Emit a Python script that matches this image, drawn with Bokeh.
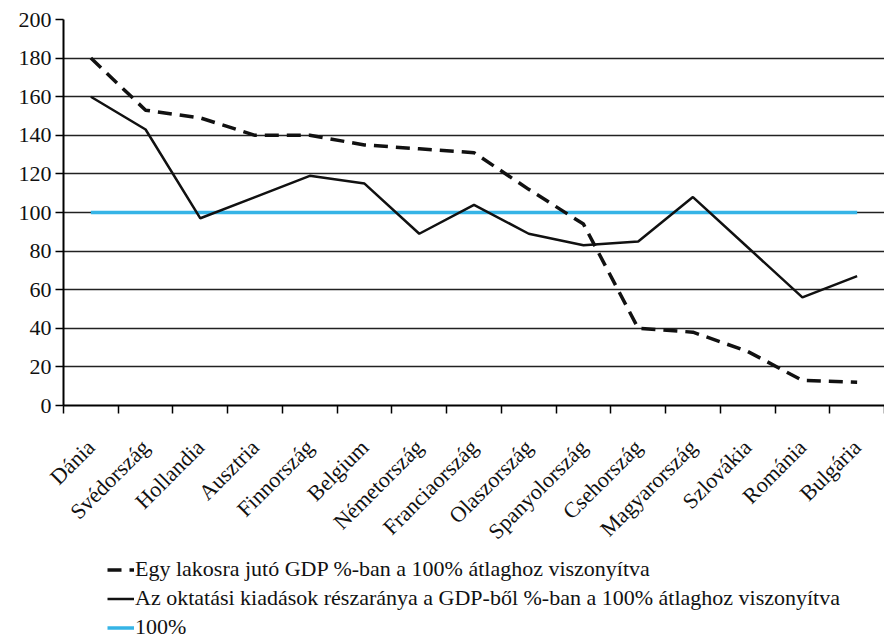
import math
from bokeh.plotting import figure
from bokeh.layouts import column
from bokeh.models import Range1d, FixedTicker, Legend, LegendItem
from bokeh.embed import file_html
from bokeh.resources import INLINE

countries = ["Dánia", "Svédország", "Hollandia", "Ausztria", "Finnország", "Belgium",
             "Németország", "Franciaország", "Olaszország", "Spanyolország", "Csehország",
             "Magyarország", "Szlovákia", "Románia", "Bulgária"]
gdp = [180, 153, 149, 140, 140, 135, 133, 131, 112, 94, 40, 38, 28, 13, 12]
edu = [160, 143, 97, 108, 119, 115, 89, 104, 89, 83, 85, 108, 82, 56, 67]
avg = [100] * len(countries)
y_ticks = [0, 20, 40, 60, 80, 100, 120, 140, 160, 180, 200]

label_gdp = "Egy lakosra jutó GDP %-ban a 100% átlaghoz viszonyítva"
label_edu = "Az oktatási kiadások részaránya a GDP-ből %-ban a 100% átlaghoz viszonyítva"
label_avg = "100%"

n = len(countries)
x = [i + 0.5 for i in range(n)]

FONT = "Liberation Serif"
GDP_STYLE = dict(line_width=3.5, line_color="#111", line_dash="14 8")
EDU_STYLE = dict(line_width=2.5, line_color="#111")
AVG_STYLE = dict(line_width=3.5, line_color="#36b4e6")

W = 884
p = figure(width=W, height=555, x_range=Range1d(0, n), y_range=Range1d(0, 200),
           output_backend="svg", toolbar_location=None,
           min_border_left=63, min_border_right=0, min_border_top=19, min_border_bottom=149)
p.outline_line_color = None
p.background_fill_color = "white"

# x axis
p.xaxis.ticker = FixedTicker(ticks=x, minor_ticks=list(range(n + 1)))
p.xaxis.major_label_overrides = {xi: c for xi, c in zip(x, countries)}
p.xaxis.major_label_orientation = math.pi / 4
p.xaxis.major_tick_line_color = None
p.xaxis.minor_tick_line_color = "black"
p.xaxis.minor_tick_line_width = 1.5
p.xaxis.minor_tick_in = 0
p.xaxis.minor_tick_out = 8
p.xaxis.axis_line_color = "black"
p.xaxis.axis_line_width = 2
p.xaxis.major_label_text_font = FONT
p.xaxis.major_label_text_font_size = "22px"
p.xaxis.major_label_text_color = "#111"
p.xaxis.major_label_standoff = 30

# y axis
p.yaxis.ticker = FixedTicker(ticks=y_ticks, minor_ticks=[])
p.yaxis.major_tick_line_color = "black"
p.yaxis.major_tick_line_width = 1.5
p.yaxis.major_tick_in = 0
p.yaxis.major_tick_out = 8
p.yaxis.axis_line_color = "black"
p.yaxis.axis_line_width = 2
p.yaxis.major_label_text_font = FONT
p.yaxis.major_label_text_font_size = "22px"
p.yaxis.major_label_text_color = "#111"
p.yaxis.major_label_standoff = 4

p.xgrid.grid_line_color = None
p.ygrid.ticker = FixedTicker(ticks=y_ticks)
p.ygrid.grid_line_color = "#222"
p.ygrid.grid_line_width = 1.5

p.line(x, avg, **AVG_STYLE)
p.line(x, gdp, **GDP_STYLE)
p.line(x, edu, **EDU_STYLE)

# legend panel below the chart
lg = figure(width=W, height=87, x_range=Range1d(0, n), y_range=Range1d(0, 200),
            output_backend="svg", toolbar_location=None,
            x_axis_location=None, y_axis_location=None,
            min_border_left=0, min_border_right=0, min_border_top=0, min_border_bottom=0)
lg.outline_line_color = None
lg.grid.visible = False
l_gdp = lg.line(x, gdp, visible=False, **GDP_STYLE)
l_edu = lg.line(x, edu, visible=False, **EDU_STYLE)
l_avg = lg.line(x, avg, visible=False, **AVG_STYLE)

legend = Legend(items=[LegendItem(label=label_gdp, renderers=[l_gdp]),
                       LegendItem(label=label_edu, renderers=[l_edu]),
                       LegendItem(label=label_avg, renderers=[l_avg])],
                location=(44, 2), orientation="vertical",
                label_text_font=FONT, label_text_font_size="22px",
                label_text_color="#111",
                glyph_width=27, glyph_height=25, spacing=3, padding=0, margin=0,
                label_standoff=1, inactive_fill_alpha=0,
                border_line_color=None, background_fill_alpha=0)
lg.add_layout(legend, "center")

layout = column(p, lg, spacing=0)
open("out.html", "w").write(file_html(layout, INLINE))
